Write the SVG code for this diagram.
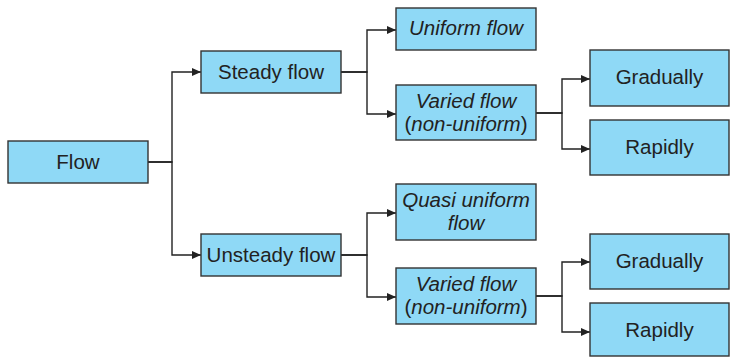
<svg xmlns="http://www.w3.org/2000/svg" width="730" height="357" viewBox="0 0 730 357">
  <defs>
    <marker id="arrow" markerWidth="9" markerHeight="8" refX="9" refY="4" orient="auto" markerUnits="userSpaceOnUse">
      <path d="M0,0 L9,4 L0,8 Z" fill="#222"/>
    </marker>
    <style>
      .box { fill: #8fd9f6; stroke: #333; stroke-width: 1.4; }
      .lbl { font-family: "Liberation Sans", Arial, sans-serif; font-size: 20.5px; fill: #222; text-anchor: middle; }
      .it { font-style: italic; }
      .wire { fill: none; stroke: #222; stroke-width: 1.4; }
    </style>
  </defs>

  <!-- connectors: each edge runs from its parent box to a shared trunk, then to the child -->
  <g id="connectors">
    <path class="wire" d="M148,162 H172 V72 H201" marker-end="url(#arrow)"/>
    <path class="wire" d="M148,162 H172 V255 H201" marker-end="url(#arrow)"/>

    <path class="wire" d="M341,72 H367 V30 H396" marker-end="url(#arrow)"/>
    <path class="wire" d="M341,72 H367 V114 H396" marker-end="url(#arrow)"/>

    <path class="wire" d="M536,113 H562 V79 H590" marker-end="url(#arrow)"/>
    <path class="wire" d="M536,113 H562 V149 H590" marker-end="url(#arrow)"/>

    <path class="wire" d="M341,255 H367 V213 H396" marker-end="url(#arrow)"/>
    <path class="wire" d="M341,255 H367 V297 H396" marker-end="url(#arrow)"/>

    <path class="wire" d="M536,296 H562 V262 H590" marker-end="url(#arrow)"/>
    <path class="wire" d="M536,296 H562 V332 H590" marker-end="url(#arrow)"/>
  </g>

  <g id="flow">
    <rect class="box" x="8" y="141" width="140" height="42"/>
    <text class="lbl" x="78" y="169">Flow</text>
  </g>

  <g id="steady">
    <rect class="box" x="201" y="51" width="140" height="42"/>
    <text class="lbl" x="271" y="79">Steady flow</text>
  </g>

  <g id="unsteady">
    <rect class="box" x="201" y="234" width="140" height="42"/>
    <text class="lbl" x="271" y="262">Unsteady flow</text>
  </g>

  <g id="uniform">
    <rect class="box" x="396" y="8" width="140" height="42"/>
    <text class="lbl it" x="466" y="35">Uniform flow</text>
  </g>

  <g id="varied-steady">
    <rect class="box" x="396" y="85" width="140" height="55"/>
    <text class="lbl it" x="466" y="108">Varied flow</text>
    <text class="lbl" x="466" y="131">(<tspan class="it">non-uniform</tspan>)</text>
  </g>

  <g id="gradually-steady">
    <rect class="box" x="590" y="50" width="139" height="56"/>
    <text class="lbl" x="659.5" y="84">Gradually</text>
  </g>

  <g id="rapidly-steady">
    <rect class="box" x="590" y="120" width="139" height="55"/>
    <text class="lbl" x="659.5" y="154">Rapidly</text>
  </g>

  <g id="quasi-uniform">
    <rect class="box" x="396" y="184" width="140" height="56"/>
    <text class="lbl it" x="466" y="207">Quasi uniform</text>
    <text class="lbl it" x="466" y="230">flow</text>
  </g>

  <g id="varied-unsteady">
    <rect class="box" x="396" y="268" width="140" height="56"/>
    <text class="lbl it" x="466" y="291">Varied flow</text>
    <text class="lbl" x="466" y="314">(<tspan class="it">non-uniform</tspan>)</text>
  </g>

  <g id="gradually-unsteady">
    <rect class="box" x="590" y="234" width="139" height="55"/>
    <text class="lbl" x="659.5" y="268">Gradually</text>
  </g>

  <g id="rapidly-unsteady">
    <rect class="box" x="590" y="303" width="139" height="53"/>
    <text class="lbl" x="659.5" y="337">Rapidly</text>
  </g>
</svg>
